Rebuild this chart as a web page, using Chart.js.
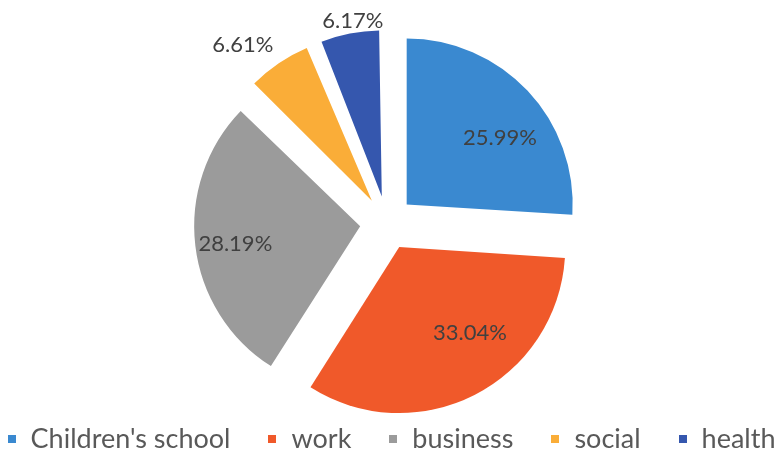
<!DOCTYPE html>
<html>
<head>
<meta charset="utf-8">
<script src="https://cdn.jsdelivr.net/npm/chart.js@4/dist/chart.umd.min.js"></script>
<style>
  html, body { margin: 0; padding: 0; background: #fff; }
  #wrap { position: relative; width: 783px; height: 454px; }
  #legend {
    position: absolute; left: 0; right: 0; top: 420px; height: 34px;
    display: flex; justify-content: center; align-items: center;
    font-family: Lato, sans-serif; font-size: 27px; color: #595959;
    white-space: nowrap;
  }
  .item { display: flex; align-items: center; margin: 0 19px; }
  .box { width: 8px; height: 8px; margin-right: 15px; margin-top: 4px; }
</style>
</head>
<body>
<div id="wrap">
  <canvas id="chart" width="783" height="454"></canvas>
  <div id="legend"></div>
</div>
<script>
const categories = ["Children's school", 'work', 'business', 'social', 'health'];
const shares = [25.99, 33.04, 28.19, 6.61, 6.17];
const colors = ['#3A89D0', '#F0592A', '#9B9B9B', '#FAAD38', '#3557AE'];

// label placement: fraction of radius from the slice tip, plus a small angle nudge (deg)
const LABEL_RADIAL = [0.69, 0.67, 0.76, 1.22, 1.07];
const LABEL_NUDGE = [7.8, -12.5, -1.5, -5.5, 1.7];

// Chart.js grows narrow exploded slices by offset/4 * (1 - sin(circ)); undo that so
// every slice keeps the same radius, like an exploded Excel pie
const evenRadius = {
  id: 'evenRadius',
  afterDatasetUpdate(chart, args) {
    const meta = args.meta;
    const base = meta.controller.outerRadius;
    meta.data.forEach((arc) => {
      const shift = (arc.options.offset || 0) / 4;
      const fix = 1 - Math.sin(Math.min(Math.PI, arc.circumference || 0));
      arc.outerRadius = base - shift * fix;
    });
  }
};

const sliceLabels = {
  id: 'sliceLabels',
  afterDatasetsDraw(chart) {
    const { ctx } = chart;
    const meta = chart.getDatasetMeta(0);
    const values = chart.data.datasets[0].data;
    const radius = meta.controller.outerRadius;
    ctx.save();
    ctx.font = '22px Lato, sans-serif';
    ctx.fillStyle = '#404040';
    ctx.textAlign = 'center';
    ctx.textBaseline = 'middle';
    meta.data.forEach((arc, i) => {
      const { x, y, startAngle, endAngle } = arc;
      const mid = (startAngle + endAngle) / 2;
      const shift = (arc.options.offset || 0) / 4;
      const tipX = x + Math.cos(mid) * shift;
      const tipY = y + Math.sin(mid) * shift;
      const a = mid + LABEL_NUDGE[i] * Math.PI / 180;
      const d = radius * LABEL_RADIAL[i];
      ctx.fillText(values[i].toFixed(2) + '%', tipX + Math.cos(a) * d, tipY + Math.sin(a) * d);
    });
    ctx.restore();
  }
};

new Chart(document.getElementById('chart'), {
  type: 'pie',
  data: {
    labels: categories,
    datasets: [{
      data: shares,
      backgroundColor: colors,
      borderWidth: 0,
      offset: 108,
      hoverOffset: 0
    }]
  },
  options: {
    responsive: false,
    animation: false,
    radius: 166,
    layout: { padding: { left: 0, right: 9, top: 0, bottom: 8 } },
    plugins: {
      legend: { display: false },
      tooltip: { enabled: false }
    },
    events: []
  },
  plugins: [evenRadius, sliceLabels]
});

const legend = document.getElementById('legend');
categories.forEach((name, i) => {
  const item = document.createElement('div');
  item.className = 'item';
  const box = document.createElement('span');
  box.className = 'box';
  box.style.background = colors[i];
  const txt = document.createElement('span');
  txt.textContent = name;
  item.appendChild(box);
  item.appendChild(txt);
  legend.appendChild(item);
});
</script>
</body>
</html>
